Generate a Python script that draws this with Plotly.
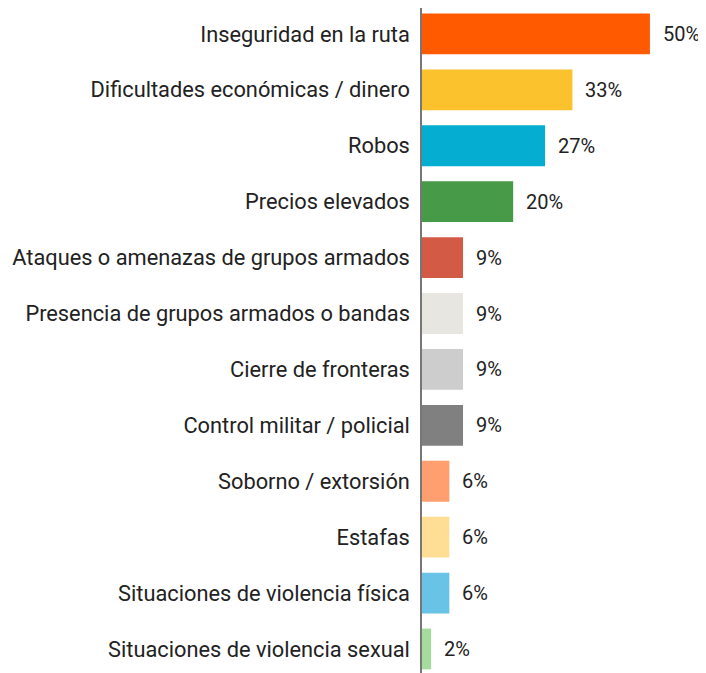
import plotly.graph_objects as go

categorias = [
    "Inseguridad en la ruta",
    "Dificultades económicas / dinero",
    "Robos",
    "Precios elevados",
    "Ataques o amenazas de grupos armados",
    "Presencia de grupos armados o bandas",
    "Cierre de fronteras",
    "Control militar / policial",
    "Soborno / extorsión",
    "Estafas",
    "Situaciones de violencia física",
    "Situaciones de violencia sexual",
]
valores = [50, 33, 27, 20, 9, 9, 9, 9, 6, 6, 6, 2]
etiquetas = ["50%", "33%", "27%", "20%", "9%", "9%", "9%", "9%", "6%", "6%", "6%", "2%"]
colores = [
    "#FF5A00", "#FBC22E", "#05ADD1", "#479A47", "#D35A45", "#E8E6E0",
    "#CDCDCD", "#808080", "#FF9E6E", "#FEDD95", "#68C3E6", "#A5DC9E",
]

fig = go.Figure()
fig.add_trace(go.Bar(
    x=valores,
    y=categorias,
    orientation="h",
    marker=dict(color=colores, line_width=0),
    hoverinfo="skip",
))

for cat, val, lab in zip(categorias, valores, etiquetas):
    fig.add_annotation(
        x=val, y=cat, text=lab, showarrow=False,
        xanchor="left", xshift=11,
        font=dict(size=20, color="#222222"),
    )

# la pagina tiene ~8px de margen en el body, se compensa aqui
fig.update_layout(
    width=698, height=665,
    margin=dict(l=414, r=0, t=0, b=0),
    paper_bgcolor="white",
    plot_bgcolor="white",
    bargap=0.27,
    showlegend=False,
    font=dict(family="Roboto", size=21, color="#222222"),
    xaxis=dict(range=[0, 62.3], visible=False, fixedrange=True),
    yaxis=dict(
        range=[11.43, -0.464],
        showline=True, linecolor="#777777", linewidth=1.5,
        showgrid=False, zeroline=False,
        ticks="", ticklabelstandoff=6,
        tickfont=dict(size=21.8, color="#222222"),
    ),
)

fig.write_html("out.html")
